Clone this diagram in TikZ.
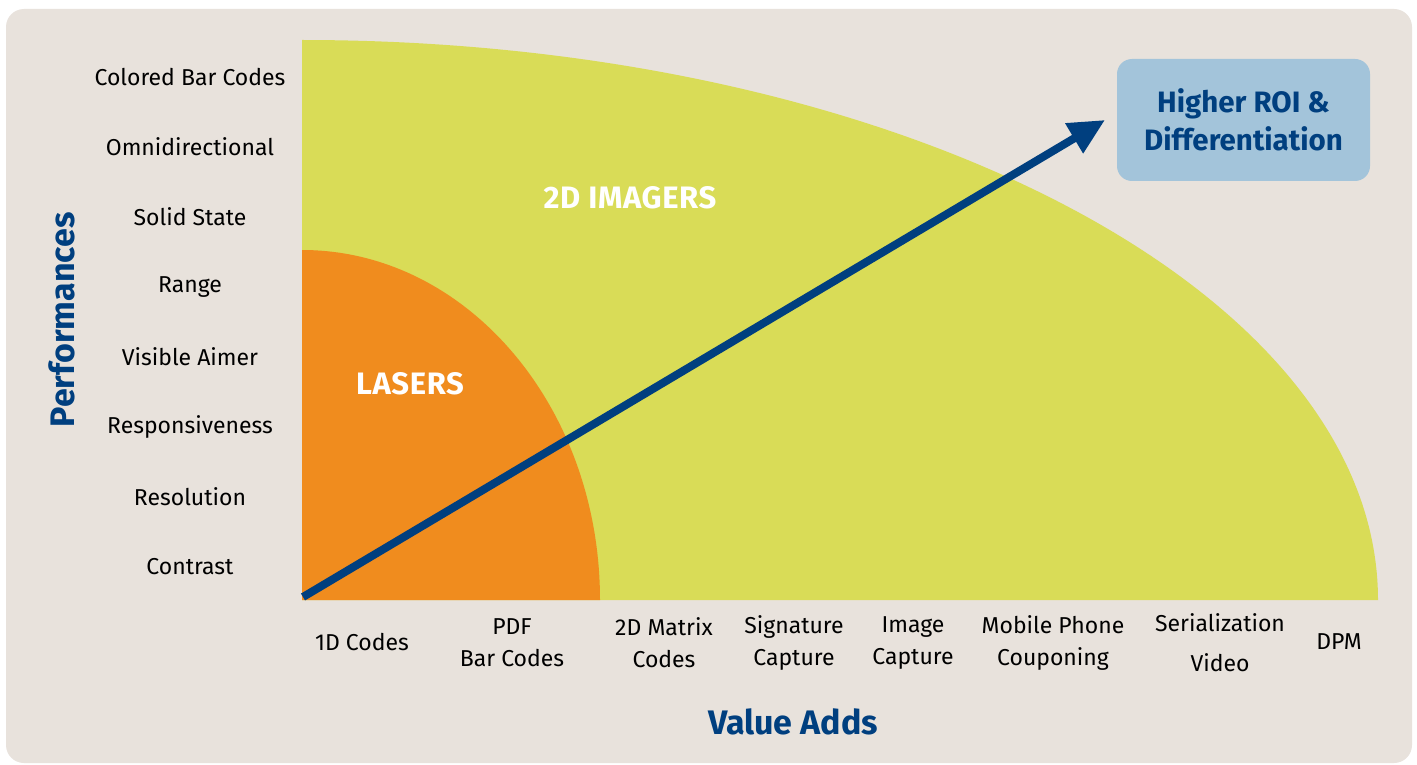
\documentclass[tikz,border=0pt]{standalone}
\usepackage{fontspec}
\setmainfont{Fira Sans}
\usetikzlibrary{arrows.meta}
\definecolor{bgc}{HTML}{E8E2DC}
\definecolor{imgyellow}{HTML}{D9DC57}
\definecolor{laserorange}{HTML}{F08C1E}
\definecolor{darkblue}{HTML}{003F7F}
\definecolor{boxblue}{HTML}{A3C4DA}
\tikzset{
  lbl/.style={font=\fontsize{23}{32}\selectfont, text=black, align=center, inner sep=0pt},
  axistitle/.style={font=\fontsize{34}{38}\selectfont\bfseries, text=darkblue, inner sep=0pt},
  zonelabel/.style={font=\fontsize{31}{34}\selectfont\bfseries\addfontfeatures{LetterSpace=2}, text=white, inner sep=0pt},
  roibox/.style={fill=boxblue, rounded corners=15pt, minimum width=253pt, minimum height=122pt,
    align=center, text=darkblue, font=\fontsize{29.5}{38}\selectfont\bfseries},
  arrowline/.style={draw=darkblue, line width=8pt, -{Triangle[length=36pt,width=33pt]}}
}
\begin{document}
\begin{tikzpicture}[x=1pt,y=1pt]
\useasboundingbox (0,0) rectangle (1417,-765);
\fill[white] (0,0) rectangle (1417,-765);
\fill[bgc, rounded corners=18pt] (6,-9) rectangle (1412,-763);
% regions
\fill[imgyellow] (302,-600) -- (302,-40) arc[start angle=90, end angle=0, x radius=1076, y radius=560] -- cycle;
\fill[laserorange] (302,-600) -- (302,-250) arc[start angle=90, end angle=0, x radius=298, y radius=350] -- cycle;
\node[zonelabel] (imagers) at (630,-198) {2D IMAGERS};
\node[zonelabel] (lasers) at (410,-384) {LASERS};
% arrow
\coordinate (origin) at (303,-597);
\coordinate (tip) at (1105,-120);
\draw[arrowline] (origin) -- (tip);
% box
\node[roibox] (roi) at (1243.5,-120) {Higher ROI \&\\Differentiation};
% left labels
\node[lbl] (p1) at (190,-77) {Colored Bar Codes};
\node[lbl] (p2) at (190,-147) {Omnidirectional};
\node[lbl] (p3) at (190,-217) {Solid State};
\node[lbl] (p4) at (190,-287) {Range};
\node[lbl] (p5) at (190,-357) {Visible Aimer};
\node[lbl] (p6) at (190,-427) {Responsiveness};
\node[lbl] (p7) at (190,-497) {Resolution};
\node[lbl] (p8) at (190,-567) {Contrast};
\node[axistitle, rotate=90] (perf) at (62,-320) {Performances};
% bottom labels
\node[lbl] (v1) at (362,-642) {1D Codes};
\node[lbl] (v2) at (512,-643) {PDF\\Bar Codes};
\node[lbl] (v3) at (664,-643) {2D Matrix\\Codes};
\node[lbl] (v4) at (794,-643) {Signature\\Capture};
\node[lbl] (v5) at (913,-643) {Image\\Capture};
\node[lbl] (v6) at (1053,-643) {Mobile Phone\\Couponing};
\node[lbl, font=\fontsize{23}{40}\selectfont] (v7) at (1220,-643) {Serialization\\Video};
\node[lbl] (v8) at (1339,-642) {DPM};
\node[axistitle] (value) at (793,-722) {Value Adds};
\end{tikzpicture}
\end{document}
